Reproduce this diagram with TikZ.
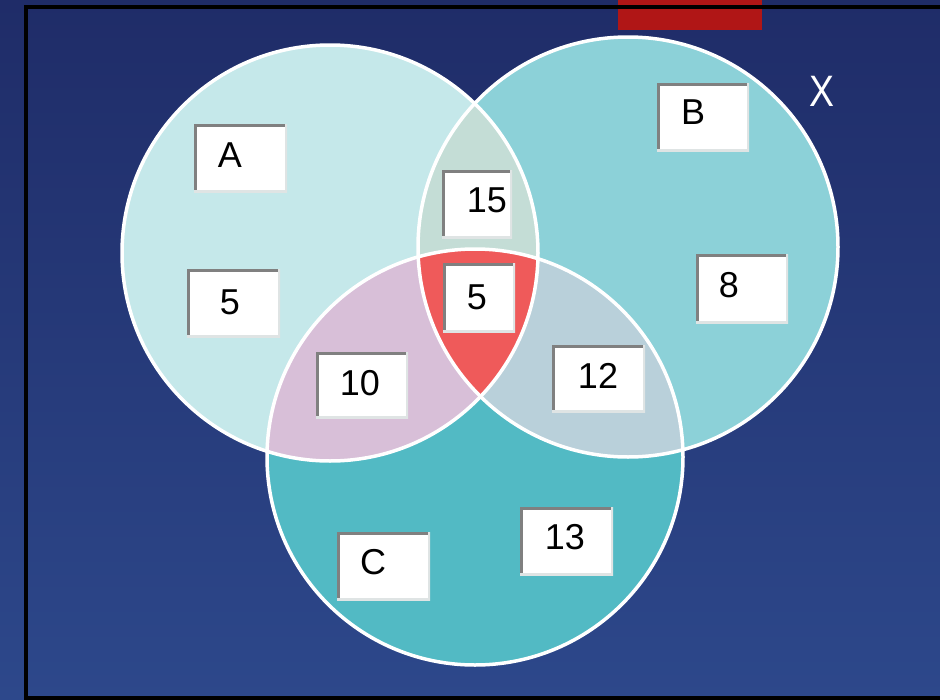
\documentclass[tikz,border=0pt]{standalone}
\usepackage{fontspec}
\setmainfont{Liberation Sans}
\begin{document}
\begin{tikzpicture}[x=1pt,y=-1pt,
  valbox/.style={fill=white, inner sep=0pt, outer sep=0pt,
    path picture={
      \draw[boxdark, line width=5pt] (path picture bounding box.south west) -- (path picture bounding box.north west) -- (path picture bounding box.north east);
      \draw[boxlight, line width=4pt] (path picture bounding box.north east) -- (path picture bounding box.south east) -- (path picture bounding box.south west);
    }},
  lbl/.style={inner sep=0pt, font=\fontsize{36}{40}\selectfont, text=black},
  ring/.style={draw=white, line width=3.5pt}
]
\definecolor{bgtop}{HTML}{1F2C68}
\definecolor{bgbot}{HTML}{2D488B}
\definecolor{colA}{HTML}{C5E8EA}
\definecolor{colB}{HTML}{8CD1D8}
\definecolor{colC}{HTML}{52BAC4}
\definecolor{colAB}{HTML}{C4DDD6}
\definecolor{colAC}{HTML}{D8BFD8}
\definecolor{colBC}{HTML}{B9D0DA}
\definecolor{colABC}{HTML}{EF5A5A}
\definecolor{redbar}{HTML}{B01616}
\definecolor{boxdark}{HTML}{808080}
\definecolor{boxlight}{HTML}{DFE4E4}

\useasboundingbox (0,0) rectangle (940,699);
% background
\shade[top color=bgtop, bottom color=bgbot] (0pt,0pt) rectangle (940pt,-699pt);
% red bar and frame
\fill[redbar] (618,0) rectangle (762,30);
\draw[black, line width=4pt] (945,7) -- (26,7) -- (26,697.5) -- (945,697.5);

% circle centres
\coordinate (cA) at (330,253);
\coordinate (cB) at (628,247);
\coordinate (cC) at (475,457);

% region fills
\fill[colA] (cA) circle[radius=208pt];
\fill[colB] (cB) circle[radius=210pt];
\fill[colC] (cC) circle[radius=208pt];
\begin{scope}
  \clip (cA) circle[radius=208pt];
  \fill[colAB] (cB) circle[radius=210pt];
  \fill[colAC] (cC) circle[radius=208pt];
\end{scope}
\begin{scope}
  \clip (cB) circle[radius=210pt];
  \fill[colBC] (cC) circle[radius=208pt];
\end{scope}
\begin{scope}
  \clip (cA) circle[radius=208pt];
  \clip (cB) circle[radius=210pt];
  \fill[colABC] (cC) circle[radius=208pt];
\end{scope}
% outlines
\draw[ring] (cA) circle[radius=208pt];
\draw[ring] (cB) circle[radius=210pt];
\draw[ring] (cC) circle[radius=208pt];

% value boxes
\node[valbox, minimum width=93pt, minimum height=68pt] (bA)   at (240.5,158)   {};
\node[valbox, minimum width=92pt, minimum height=68pt] (bB)   at (703,117)     {};
\node[valbox, minimum width=92pt, minimum height=69pt] (b8)   at (742,288.5)   {};
\node[valbox, minimum width=93pt, minimum height=68pt] (b5a)  at (233.5,303)   {};
\node[valbox, minimum width=70pt, minimum height=68pt] (b15)  at (477,204)     {};
\node[valbox, minimum width=72pt, minimum height=69pt] (b5c)  at (479,297.5)   {};
\node[valbox, minimum width=92pt, minimum height=66pt] (b10)  at (362,385)     {};
\node[valbox, minimum width=93pt, minimum height=67pt] (b12)  at (598.5,378.5) {};
\node[valbox, minimum width=93pt, minimum height=68pt] (bC)   at (383.5,566)   {};
\node[valbox, minimum width=93pt, minimum height=68pt] (b13)  at (566.5,541)   {};

% labels
\node[lbl] (tA)   at (230,155) {A};
\node[lbl] (tB)   at (693,112) {B};
\node[lbl] (t8)   at (729,285) {8};
\node[lbl] (t5a)  at (230,302) {5};
\node[lbl] (t15)  at (487,200) {15};
\node[lbl] (t5c)  at (477,297) {5};
\node[lbl] (t10)  at (360,383) {10};
\node[lbl] (t12)  at (598,376) {12};
\node[lbl] (tC)   at (373,562) {C};
\node[lbl] (t13)  at (565,537) {13};
\node[inner sep=0pt, text=white, font=\fontsize{44}{48}\selectfont, xscale=0.85] (tX) at (822,91) {X};
\end{tikzpicture}
\end{document}
